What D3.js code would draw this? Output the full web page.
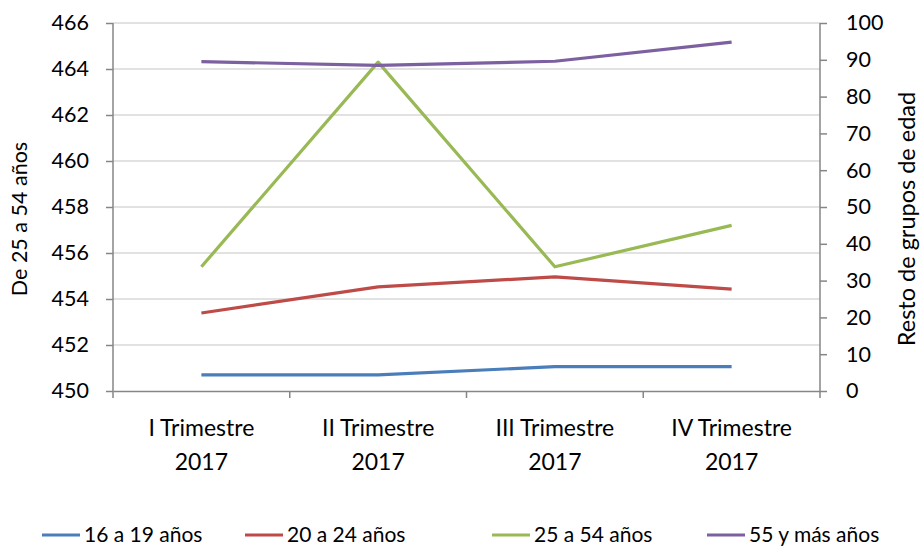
<!DOCTYPE html>
<html>
<head>
<meta charset="utf-8">
<script src="https://cdn.jsdelivr.net/npm/d3@7"></script>
<style>
  body { margin: 0; background: #fff; }
  text { font-family: Lato, "Open Sans", sans-serif; fill: #000; }
</style>
</head>
<body>
<div id="chart"></div>
<script>
// data
const quarters = ['I Trimestre|2017', 'II Trimestre|2017', 'III Trimestre|2017', 'IV Trimestre|2017'];
const seriesNames = ['16 a 19 años', '20 a 24 años', '25 a 54 años', '55 y más años'];
const v16a19 = [4.4, 4.4, 6.6, 6.6];
const v20a24 = [21.2, 28.3, 31.0, 27.7];
const v25a54 = [455.4, 464.3, 455.4, 457.2]; // left axis
const v55mas = [89.5, 88.5, 89.6, 94.8];
const leftTicks = [450, 452, 454, 456, 458, 460, 462, 464, 466];
const rightTicks = [0, 10, 20, 30, 40, 50, 60, 70, 80, 90, 100];

const colors = ['#4a7ebb', '#be4b48', '#98b954', '#7d60a0'];

const width = 920, height = 548;
const margin = { left: 113, right: 100, top: 23, bottom: 157 };
const plotW = width - margin.left - margin.right;
const plotH = height - margin.top - margin.bottom;

const svg = d3.select('#chart').append('svg')
  .attr('width', width)
  .attr('height', height);

const x = d3.scaleBand().domain(quarters).range([margin.left, margin.left + plotW]);
const yL = d3.scaleLinear().domain([450, 466]).range([margin.top + plotH, margin.top]);
const yR = d3.scaleLinear().domain([0, 100]).range([margin.top + plotH, margin.top]);

// gridlines
svg.append('g').selectAll('line').data(leftTicks.slice(1))
  .join('line')
  .attr('x1', margin.left).attr('x2', margin.left + plotW)
  .attr('y1', (d) => yL(d)).attr('y2', (d) => yL(d))
  .attr('stroke', '#d9d9d9').attr('stroke-width', 1.5);

// axes
const axisColor = '#868686';
const gL = svg.append('g')
  .attr('transform', `translate(${margin.left},0)`)
  .call(d3.axisLeft(yL).tickValues(leftTicks).tickSize(7).tickPadding(17));
const gR = svg.append('g')
  .attr('transform', `translate(${margin.left + plotW},0)`)
  .call(d3.axisRight(yR).tickValues(rightTicks).tickSize(7).tickPadding(19));
const gB = svg.append('g')
  .attr('transform', `translate(0,${margin.top + plotH})`)
  .call(d3.axisBottom(x).tickSize(0).tickFormat(''));

[gL, gR, gB].forEach((g) => {
  g.select('.domain').attr('stroke', axisColor).attr('stroke-width', 1.5);
  g.selectAll('.tick line').attr('stroke', axisColor).attr('stroke-width', 1.5);
  g.selectAll('.tick text').attr('font-size', 21.5).attr('font-family', 'Lato, "Open Sans", sans-serif').attr('fill', '#000');
});
gL.select('.domain').attr('d', `M0,${margin.top}V${margin.top + plotH}`);
gR.select('.domain').attr('d', `M0,${margin.top}V${margin.top + plotH}`);

// category boundary ticks
const bounds = quarters.map((q) => x(q)).concat([margin.left + plotW]);
gB.selectAll('.bound').data(bounds)
  .join('line')
  .attr('class', 'bound')
  .attr('x1', (d) => d).attr('x2', (d) => d)
  .attr('y1', 0).attr('y2', 7)
  .attr('stroke', axisColor).attr('stroke-width', 1.5);

// category labels (two lines)
const catLabels = svg.append('g').selectAll('text').data(quarters)
  .join('text')
  .attr('text-anchor', 'middle')
  .attr('font-size', 23)
  .attr('x', (d) => x(d) + x.bandwidth() / 2);
catLabels.selectAll('tspan').data((d) => d.split('|'))
  .join('tspan')
  .attr('x', function () { return d3.select(this.parentNode).attr('x'); })
  .attr('y', (d, i) => 436 + i * 34)
  .text((d) => d);

// axis titles
svg.append('text')
  .attr('transform', 'translate(27,219) rotate(-90)')
  .attr('text-anchor', 'middle')
  .attr('font-size', 21.5)
  .text('De 25 a 54 años');
svg.append('text')
  .attr('transform', 'translate(915,219) rotate(-90)')
  .attr('text-anchor', 'middle')
  .attr('font-size', 23.5)
  .text('Resto de grupos de edad');

// lines
const series = [
  { name: seriesNames[0], values: v16a19, y: yR },
  { name: seriesNames[1], values: v20a24, y: yR },
  { name: seriesNames[2], values: v25a54, y: yL },
  { name: seriesNames[3], values: v55mas, y: yR },
];

series.forEach((s, i) => {
  const line = d3.line()
    .x((d, j) => x(quarters[j]) + x.bandwidth() / 2)
    .y((d) => s.y(d));
  svg.append('path')
    .datum(s.values)
    .attr('d', line)
    .attr('fill', 'none')
    .attr('stroke', colors[i])
    .attr('stroke-width', 3.2)
    .attr('stroke-linejoin', 'round');
});

// legend
const legendX = [42, 245, 492, 707];
const legend = svg.append('g').selectAll('g').data(series)
  .join('g')
  .attr('transform', (d, i) => `translate(${legendX[i]},535)`);
legend.append('line')
  .attr('x1', 0).attr('x2', 38)
  .attr('stroke', (d, i) => colors[i])
  .attr('stroke-width', 3.2);
legend.append('text')
  .attr('x', 42)
  .attr('dy', '0.35em')
  .attr('font-size', 21)
  .text((d) => d.name);
</script>
</body>
</html>
